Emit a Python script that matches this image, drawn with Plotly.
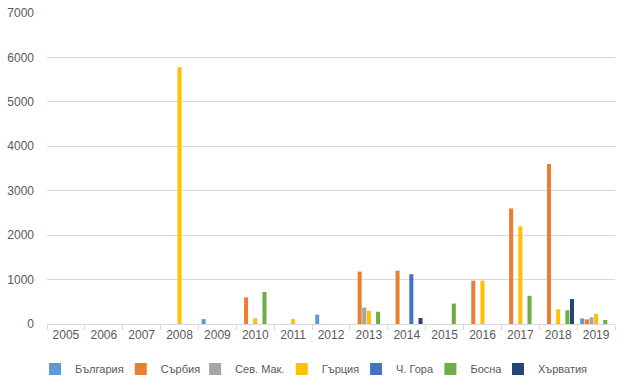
import plotly.graph_objects as go

years = [str(y) for y in range(2005, 2020)]
series_names = ["България", "Сърбия", "Сев. Мак.", "Гърция", "Ч. Гора", "Босна", "Хърватия"]
bulgaria = [0, 0, 0, 0, 110, 0, 0, 210, 0, 0, 0, 0, 0, 0, 125]
serbia   = [0, 0, 0, 0, 0, 600, 0, 0, 1180, 1200, 0, 975, 2600, 3600, 105]
sevmak   = [0, 0, 0, 0, 0, 0, 0, 0, 370, 0, 0, 0, 0, 0, 150]
greece   = [0, 0, 0, 5780, 0, 130, 110, 0, 300, 0, 0, 975, 2200, 330, 225]
chgora   = [0, 0, 0, 0, 0, 0, 0, 0, 0, 1120, 0, 0, 0, 0, 0]
bosna    = [0, 0, 0, 0, 0, 720, 0, 0, 275, 0, 460, 0, 635, 310, 90]
croatia  = [0, 0, 0, 0, 0, 0, 0, 0, 0, 135, 0, 0, 0, 560, 0]
colors = ["#5B9BD5", "#ED7D31", "#A5A5A5", "#FFC000", "#4472C4", "#70AD47", "#264478"]

data = [bulgaria, serbia, sevmak, greece, chgora, bosna, croatia]
legend_x = [0.0556, 0.1917, 0.3097, 0.4473, 0.5652, 0.6832, 0.7905]
legend_ids = ["legend"] + ["legend%d" % i for i in range(2, 8)]

fig = go.Figure()
for name, vals, c, lid in zip(series_names, data, colors, legend_ids):
    fig.add_trace(go.Bar(x=years, y=vals, name=name, legend=lid,
                         marker=dict(color=c, line=dict(width=0))))

layout_legends = {}
for lid, lx in zip(legend_ids, legend_x):
    layout_legends[lid] = dict(orientation="h", xref="container", yref="container",
                               x=lx, xanchor="left", y=0.049, yanchor="middle",
                               font=dict(size=11, color="#595959"), bgcolor="rgba(0,0,0,0)",
                               borderwidth=0)

fig.update_layout(
    width=630, height=388,
    margin=dict(l=47, r=15, t=13, b=64, autoexpand=False),
    paper_bgcolor="white", plot_bgcolor="white",
    barmode="group", bargap=0.15, bargroupgap=0.12,
    font=dict(family="Liberation Sans, Arial", size=12, color="#595959"),
    showlegend=True,
    **layout_legends,
)
fig.update_xaxes(type="category", showline=True, linecolor="#D9D9D9", linewidth=1,
                 ticks="outside", tickson="boundaries", ticklen=5, tickcolor="#D9D9D9",
                 showgrid=False, automargin=False, tickfont=dict(size=12, color="#595959"))
fig.update_yaxes(range=[0, 7000], dtick=1000, showgrid=True, gridcolor="#D9D9D9", gridwidth=1,
                 zeroline=False, showline=False, ticks="", ticklabelstandoff=12, automargin=False,
                 tickfont=dict(size=12, color="#595959"))

fig.write_html("out.html")
